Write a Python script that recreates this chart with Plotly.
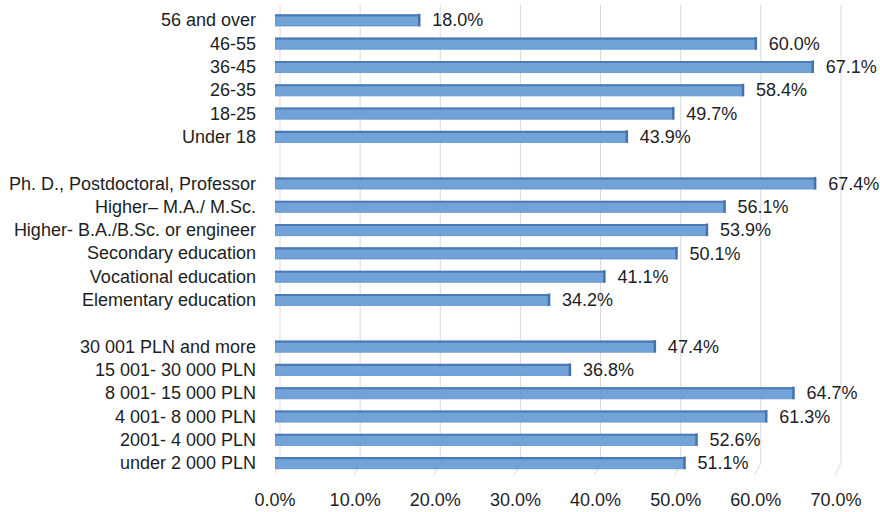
import plotly.graph_objects as go

# Share of respondents by age, education and monthly income (%)
age_labels = ["56 and over", "46-55", "36-45", "26-35", "18-25", "Under 18"]
age_values = [18.0, 60.0, 67.1, 58.4, 49.7, 43.9]

edu_labels = ["Ph. D., Postdoctoral, Professor", "Higher– M.A./ M.Sc.",
              "Higher- B.A./B.Sc. or engineer", "Secondary education",
              "Vocational education", "Elementary education"]
edu_values = [67.4, 56.1, 53.9, 50.1, 41.1, 34.2]

inc_labels = ["30 001 PLN and more", "15 001- 30 000 PLN", "8 001- 15 000 PLN",
              "4 001- 8 000 PLN", "2001- 4 000 PLN", "under 2 000 PLN"]
inc_values = [47.4, 36.8, 64.7, 61.3, 52.6, 51.1]

x_ticks = [0, 10, 20, 30, 40, 50, 60, 70]

# Stack the three groups top to bottom with one empty row between them
labels, values, rows = [], [], []
row = 0
for grp_labels, grp_values in [(age_labels, age_values),
                               (edu_labels, edu_values),
                               (inc_labels, inc_values)]:
    for lab, val in zip(grp_labels, grp_values):
        labels.append(lab)
        values.append(val)
        rows.append(row)
        row += 1
    row += 1
last_row = rows[-1]

FONT = "Liberation Sans, Arial, sans-serif"
TEXT = "#1e1e1e"
GRID = "#D9D9D9"

fig = go.Figure()

# Main bar body
fig.add_trace(go.Bar(
    x=values, y=rows, orientation="h",
    width=0.47, offset=-0.22,
    marker=dict(color="#71A3D9", line=dict(color="#5E8FC8", width=0.8)),
    text=[f"{v:.1f}%" for v in values],
    texttemplate="  %{text}",
    textposition="outside", cliponaxis=False, constraintext="none",
    textfont=dict(family=FONT, size=18, color=TEXT),
    hoverinfo="skip", showlegend=False,
))
# Darker top face of each bar
fig.add_trace(go.Bar(
    x=values, y=rows, orientation="h",
    width=0.09, offset=-0.25,
    marker=dict(color="#4C7AB4", line=dict(width=0)),
    hoverinfo="skip", showlegend=False,
))
# Shaded end cap of each bar
fig.add_trace(go.Scatter(
    x=values, y=rows, mode="markers",
    marker=dict(symbol="line-ns", size=9, line=dict(color="#4672AC", width=2.5)),
    hoverinfo="skip", showlegend=False, cliponaxis=False,
))

# Back-wall gridlines (set slightly back in depth) and floor edges
shapes = []
for v in x_ticks:
    shapes.append(dict(
        type="line", xref="x", yref="paper",
        xsizemode="pixel", xanchor=v, x0=5, x1=5,
        ysizemode="pixel", yanchor=0, y0=12, y1=470,
        line=dict(color=GRID, width=1), layer="below",
    ))
    shapes.append(dict(
        type="line", xref="x", yref="paper",
        xsizemode="pixel", xanchor=v, x0=-1, x1=5,
        ysizemode="pixel", yanchor=0, y0=0, y1=12,
        line=dict(color=GRID, width=1), layer="below",
    ))

fig.update_layout(
    width=880, height=512,
    margin=dict(l=275, r=28, t=8, b=37, autoexpand=False),
    paper_bgcolor="white", plot_bgcolor="white",
    barmode="overlay",
    shapes=shapes,
    font=dict(family=FONT, size=18, color=TEXT),
    xaxis=dict(
        range=[0, 72],
        tickvals=x_ticks,
        ticktext=[f"{t:.1f}%" for t in x_ticks],
        showgrid=False, zeroline=False, showline=False,
        ticks="", ticklabelstandoff=12, automargin=False,
        tickfont=dict(family=FONT, size=18, color=TEXT),
    ),
    yaxis=dict(
        range=[last_row + 0.52, -0.52],
        tickvals=rows, ticktext=labels,
        showgrid=False, zeroline=False, showline=False,
        ticks="", ticklabelstandoff=18, automargin=False,
        tickfont=dict(family=FONT, size=18, color=TEXT),
    ),
)

fig.write_html("out.html")
